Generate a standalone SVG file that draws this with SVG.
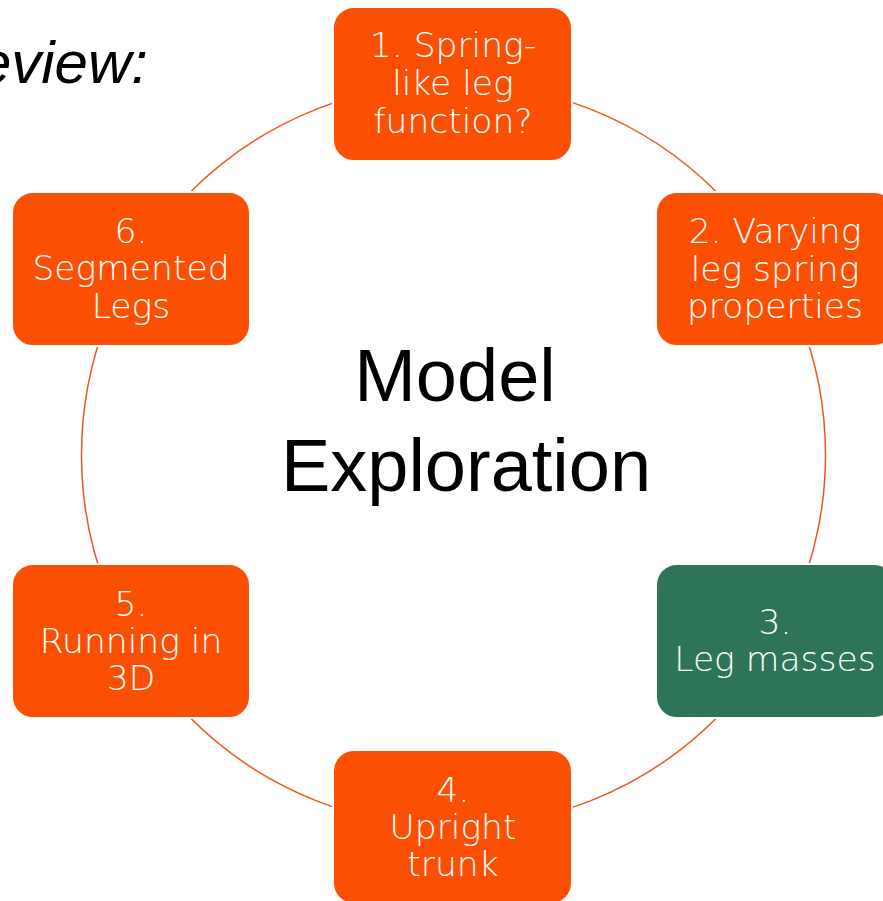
<svg xmlns="http://www.w3.org/2000/svg" width="883" height="901" viewBox="0 0 883 901">
<style>
.box{fill:#FB5004;stroke:#ffffff;stroke-width:2}
.green{fill:#2E7459}
.lbl{font-family:"DejaVu Sans","Liberation Sans",sans-serif;font-weight:200;font-size:34.5px;fill:#ffffff;text-anchor:middle}
.ring{fill:none;stroke:#F0561A;stroke-width:1.5}
.title{font-family:"Liberation Sans",Arial,sans-serif;font-size:74px;fill:#000000;text-anchor:middle}
</style>
<rect width="883" height="901" fill="#ffffff"/>
<text x="148" y="83" font-family="'Liberation Sans',Arial,sans-serif" font-style="italic" font-size="60" text-anchor="end" fill="#000000">eview:</text>
<g id="connectors">
<circle class="ring" cx="453.5" cy="455" r="372"/>
</g>
<text class="title" x="455" y="401">Model</text>
<text class="title" x="466" y="491">Exploration</text>
<g id="node1">
<rect class="box" x="333" y="7" width="239" height="154" rx="21"/>
<text class="lbl" x="453" y="57">1. Spring-</text>
<text class="lbl" x="453" y="95">like leg</text>
<text class="lbl" x="453" y="133">function?</text>
</g>
<g id="node2">
<rect class="box" x="656" y="192" width="239" height="154" rx="21"/>
<text class="lbl" x="775" y="243">2. Varying</text>
<text class="lbl" x="775" y="281">leg spring</text>
<text class="lbl" x="775" y="318">properties</text>
</g>
<g id="node3">
<rect class="box green" x="656" y="564" width="239" height="154" rx="21"/>
<text class="lbl" x="775" y="634">3.</text>
<text class="lbl" x="775" y="671">Leg masses</text>
</g>
<g id="node4">
<rect class="box" x="333" y="750" width="239" height="154" rx="21"/>
<text class="lbl" x="453" y="802">4.</text>
<text class="lbl" x="453" y="839">Upright</text>
<text class="lbl" x="453" y="876">trunk</text>
</g>
<g id="node5">
<rect class="box" x="12" y="564" width="238" height="154" rx="21"/>
<text class="lbl" x="131" y="616">5.</text>
<text class="lbl" x="131" y="653">Running in</text>
<text class="lbl" x="131" y="690">3D</text>
</g>
<g id="node6">
<rect class="box" x="12" y="192" width="238" height="154" rx="21"/>
<text class="lbl" x="131" y="243">6.</text>
<text class="lbl" x="131" y="280">Segmented</text>
<text class="lbl" x="131" y="318">Legs</text>
</g>
</svg>
